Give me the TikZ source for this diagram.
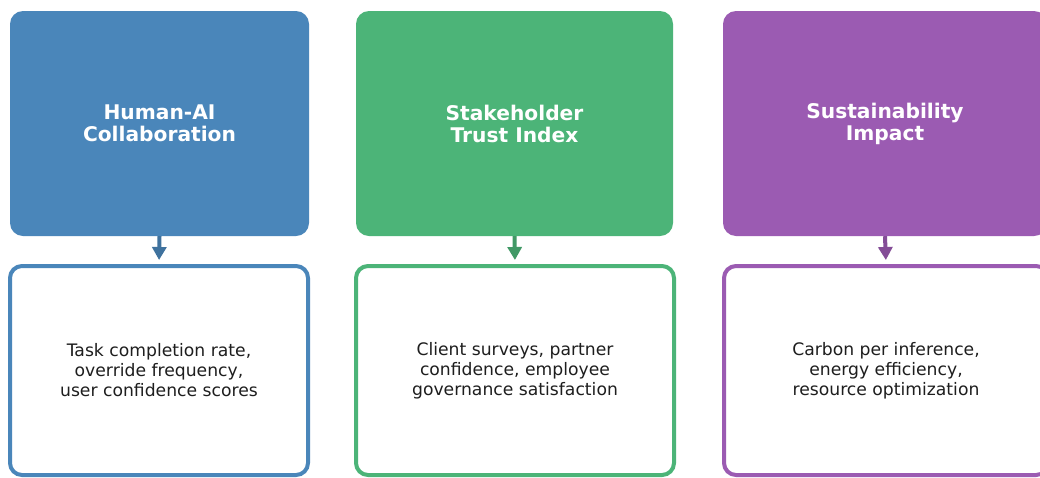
\documentclass[tikz,border=0pt]{standalone}
\usepackage{fontspec}
\setmainfont{DejaVu Sans}
\usetikzlibrary{arrows.meta}
\definecolor{cblue}{RGB}{74,134,186}
\definecolor{cgreen}{RGB}{76,180,120}
\definecolor{cpurple}{RGB}{155,91,178}
\definecolor{bodytext}{RGB}{30,30,30}
\tikzset{
  headbox/.style={draw=none, fill=#1, rounded corners=13pt, minimum height=225pt,
    text=white, font=\fontsize{20.2}{22}\selectfont\bfseries, align=center, inner sep=0pt},
  metricbox/.style={draw=#1, line width=4pt, fill=white, rounded corners=12pt,
    minimum height=209pt, text=bodytext, font=\fontsize{17.2}{20}\selectfont,
    align=center, inner sep=0pt},
  flow/.style={draw=#1!85!black, line width=4pt,
    -{Triangle[width=14pt,length=13pt]}, shorten >=4pt}
}
\begin{document}
\begin{tikzpicture}[x=1pt,y=-1pt]
  \useasboundingbox (0,0) rectangle (1040,477);
  \fill[white] (0,0) rectangle (1040,477);
  \clip (0,0) rectangle (1040,477);

  % category headers
  \node[headbox=cblue, minimum width=299pt] (h1) at (159.5,123.5) {Human-AI\\Collaboration};
  \node[headbox=cgreen, minimum width=317pt] (h2) at (514.5,123.5) {Stakeholder\\Trust Index};
  \node[headbox=cpurple, minimum width=324pt] (h3) at (885,123.5) {Sustainability\\Impact};

  % metric descriptions
  \node[metricbox=cblue, minimum width=298pt] (b1) at (159,370.5)
    {Task completion rate,\\override frequency,\\user confidence scores};
  \node[metricbox=cgreen, minimum width=318pt] (b2) at (515,370.5)
    {Client surveys, partner\\confidence, employee\\governance satisfaction};
  \node[metricbox=cpurple, minimum width=324pt] (b3) at (886,370.5)
    {Carbon per inference,\\energy efficiency,\\resource optimization};

  % header to metrics
  \draw[flow=cblue] (h1.south) -- (b1.north);
  \draw[flow=cgreen] (h2.south) -- (b2.north);
  \draw[flow=cpurple] (h3.south) -- (b3.north);
\end{tikzpicture}
\end{document}
